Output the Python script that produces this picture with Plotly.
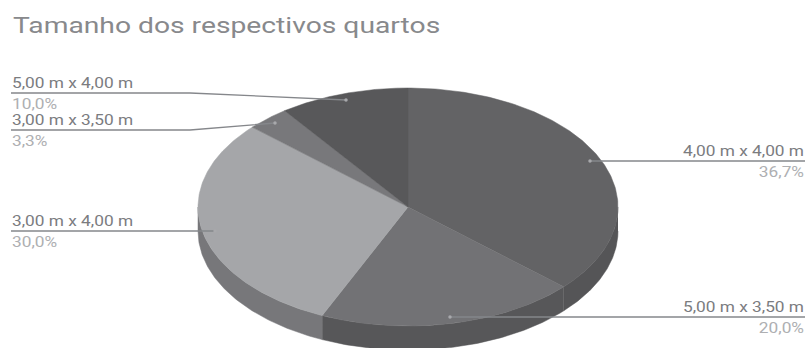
import numpy as np
import plotly.graph_objects as go

# Room sizes and their share of the total
room_sizes = ["4,00 m x 4,00 m", "5,00 m x 3,50 m", "3,00 m x 4,00 m", "3,00 m x 3,50 m", "5,00 m x 4,00 m"]
shares = [36.7, 20.0, 30.0, 3.3, 10.0]
share_labels = ["36,7%", "20,0%", "30,0%", "3,3%", "10,0%"]
title_text = "Tamanho dos respectivos quartos"

# Styling per slice
top_colors = ["#636365", "#727275", "#a5a6a9", "#78787b", "#58585a"]
side_colors = ["#555557", "#575759", "#77777a", "#77777a", "#555557"]

# Disc geometry on a page-sized coordinate system
CX, CY, RX, RY, DEPTH = 408, 207, 210, 119, 24

# Callout routes: each one runs from the slice to the chart edge
callouts = [
    {"x": [590, 805], "y": [161, 161], "side": "right", "tx": 804},
    {"x": [450, 805], "y": [317, 317], "side": "right", "tx": 804},
    {"x": [215, 11], "y": [231, 231], "side": "left", "tx": 12},
    {"x": [275, 190, 11], "y": [123, 130, 130], "side": "left", "tx": 12},
    {"x": [346, 190, 11], "y": [100, 93, 93], "side": "left", "tx": 12},
]

FONT = "Roboto"
LABEL_COLOR = "#7b7c7f"
PCT_COLOR = "#aeafb2"
LEADER_COLOR = "#85878b"

# Wide lettering: every text point is stretched about its anchor
WIDEN_TEXT = """
document.querySelectorAll('.textpoint text').forEach(function (t) {
  var x = parseFloat(t.getAttribute('x'));
  var k = t.textContent.length > 20 ? 1.228 : 1.235;
  t.setAttribute('transform', 'translate(' + x + ',0) scale(' + k + ',1) translate(' + (-x) + ',0)');
});
"""


def rim(theta_deg, dy=0.0):
    """Points on the disc edge; angles run clockwise from twelve o'clock."""
    t = np.radians(theta_deg)
    return CX + RX * np.sin(t), CY - RY * np.cos(t) + dy


def add_text(fig, x, y, text, position, size, color):
    fig.add_trace(go.Scatter(
        x=[x], y=[y], text=[text], mode="text", textposition=position,
        textfont=dict(family=FONT, size=size, color=color),
        hoverinfo="skip", showlegend=False,
    ))


fig = go.Figure()
edges = np.concatenate([[0], np.cumsum(shares)]) / sum(shares) * 360

# Outer wall of the disc: only the front half faces the viewer
for start, end, color in zip(edges[:-1], edges[1:], side_colors):
    lo, hi = max(start, 90), min(end, 270)
    if lo >= hi:
        continue
    arc = np.linspace(lo, hi, 90)
    x1, y1 = rim(arc)
    x2, y2 = rim(arc[::-1], DEPTH)
    fig.add_trace(go.Scatter(
        x=np.concatenate([x1, x2]), y=np.concatenate([y1, y2]),
        mode="lines", fill="toself", fillcolor=color,
        line=dict(color=color, width=0.5), hoverinfo="skip", showlegend=False,
    ))

# Top face slices
for start, end, color in zip(edges[:-1], edges[1:], top_colors):
    arc = np.linspace(start, end, 180)
    x, y = rim(arc)
    fig.add_trace(go.Scatter(
        x=np.concatenate([[CX], x, [CX]]), y=np.concatenate([[CY], y, [CY]]),
        mode="lines", fill="toself", fillcolor=color,
        line=dict(color=color, width=0.5), hoverinfo="skip", showlegend=False,
    ))

# Callout lines, anchor dots and their two-line labels
for size, pct, c in zip(room_sizes, share_labels, callouts):
    fig.add_trace(go.Scatter(
        x=c["x"], y=c["y"], mode="lines",
        line=dict(color=LEADER_COLOR, width=1.3), hoverinfo="skip", showlegend=False,
    ))
    fig.add_trace(go.Scatter(
        x=c["x"][:1], y=c["y"][:1], mode="markers",
        marker=dict(color="#a8a9ac", size=3.5), hoverinfo="skip", showlegend=False,
    ))
    position = "middle left" if c["side"] == "right" else "middle right"
    level = c["y"][-1]
    add_text(fig, c["tx"], level - 8, size, position, 14, LABEL_COLOR)
    add_text(fig, c["tx"], level + 13, pct, position, 14, PCT_COLOR)

add_text(fig, 13, 27, title_text, "middle right", 23, "#88898c")

fig.update_layout(
    width=806, height=348, margin=dict(l=0, r=0, t=0, b=0),
    paper_bgcolor="white", plot_bgcolor="white", showlegend=False,
    xaxis=dict(range=[0, 806], visible=False, fixedrange=True),
    yaxis=dict(range=[348, 0], visible=False, fixedrange=True),
)
fig.write_html("out.html", config={"displayModeBar": False}, post_script=WIDEN_TEXT)
